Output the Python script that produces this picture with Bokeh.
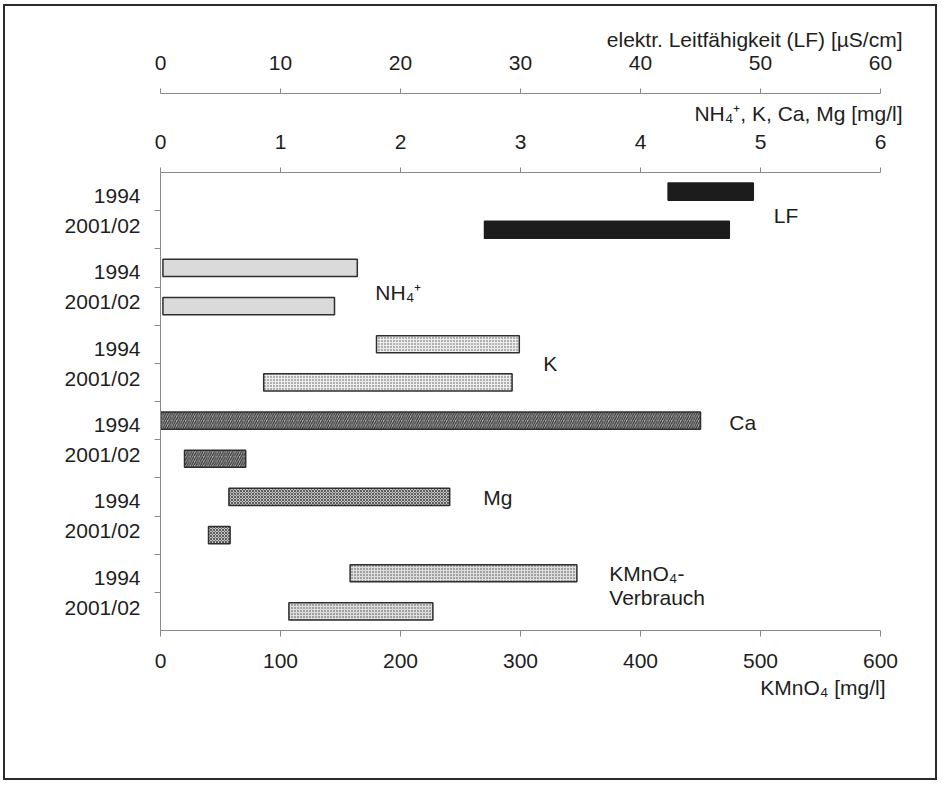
from bokeh.plotting import figure
from bokeh.models import Range1d, LinearAxis, FixedTicker, Title, Label
from bokeh.embed import file_html
from bokeh.resources import INLINE

# ---------------- data ----------------
years = ["1994", "2001/02"]
groups = ["LF", "NH₄⁺", "K", "Ca", "Mg", "KMnO₄-\nVerbrauch"]

lf_lo = [42.3, 27.0]      # µS/cm
lf_hi = [49.4, 47.4]
nh4_lo = [0.02, 0.02]     # mg/l
nh4_hi = [1.64, 1.45]
k_lo = [1.80, 0.86]
k_hi = [2.99, 2.93]
ca_lo = [0.0, 0.20]
ca_hi = [4.50, 0.71]
mg_lo = [0.57, 0.40]
mg_hi = [2.41, 0.58]
kmno4_lo = [158, 107]     # mg/l
kmno4_hi = [347, 227]

lf_ticks = [0, 10, 20, 30, 40, 50, 60]
mg_ticks = [0, 1, 2, 3, 4, 5, 6]
kmno4_ticks = [0, 100, 200, 300, 400, 500, 600]

lf_title = "elektr. Leitfähigkeit (LF) [µS/cm]"
mg_title = "NH₄⁺, K, Ca, Mg [mg/l]"
kmno4_title = "KMnO₄ [mg/l]"

# ---------------- style ----------------
FONT = "Liberation Sans"
FS = "21px"
TXT = "#1e1e1e"
AX = "#8a8a8a"
W, H = 934, 776

p = figure(width=W, height=H, output_backend="svg", toolbar_location=None,
           x_range=Range1d(0, 600), y_range=Range1d(12, 0),
           min_border_left=155, min_border_right=59,
           min_border_top=166, min_border_bottom=152)
p.styles = {"border": "2px solid #2b2b2b", "margin-left": "3px", "margin-top": "4px"}
p.extra_x_ranges = {"mg": Range1d(0, 6), "lf": Range1d(0, 60)}
p.xgrid.visible = False
p.ygrid.visible = False
p.outline_line_color = None
p.background_fill_color = "white"
p.border_fill_color = "white"

def style_axis(ax, ticks, standoff, tick_out):
    ax.ticker = FixedTicker(ticks=ticks)
    ax.axis_line_color = AX
    ax.major_tick_line_color = AX
    ax.major_tick_out = tick_out
    ax.major_tick_in = 0
    ax.minor_tick_line_color = None
    ax.major_label_text_font = FONT
    ax.major_label_text_font_size = FS
    ax.major_label_text_color = TXT
    ax.major_label_standoff = standoff

def title(text, offset, standoff):
    return Title(text=text, align="right", offset=offset, standoff=standoff,
                 text_font=FONT, text_font_size=FS, text_font_style="normal",
                 text_color=TXT)

# bottom axis (KMnO4)
xb = p.xaxis[0]
style_axis(xb, kmno4_ticks, 17, 6)

# top axes
ax_mg = LinearAxis(x_range_name="mg")
style_axis(ax_mg, mg_ticks, 19, 5)
p.add_layout(ax_mg, "above")
p.add_layout(title(mg_title, -22, 13), "above")
ax_lf = LinearAxis(x_range_name="lf")
style_axis(ax_lf, lf_ticks, 19, 5)
p.add_layout(ax_lf, "above")
p.add_layout(title(lf_title, -22, 4), "above")
p.add_layout(title(kmno4_title, -5, 6), "below")

# left axis: year labels, ticks between rows
label_pos = []
overrides = {}
for g in range(len(groups)):
    for j, yr in enumerate(years):
        pos = round(2 * g + j + 0.5 + (0.1 if j == 0 else -0.11), 3)
        label_pos.append(pos)
        overrides[pos] = yr
ya = p.yaxis[0]
ya.ticker = FixedTicker(ticks=label_pos, minor_ticks=list(range(1, 2 * len(groups))))
ya.major_label_overrides = overrides
ya.axis_line_color = AX
ya.major_tick_line_color = None
ya.major_tick_out = 0
ya.major_tick_in = 0
ya.minor_tick_line_color = AX
ya.minor_tick_out = 6
ya.minor_tick_in = 0
ya.major_label_text_font = FONT
ya.major_label_text_font_size = FS
ya.major_label_text_color = TXT
ya.major_label_standoff = 14

# bars
series = [
    (lf_lo, lf_hi, "lf", dict(fill_color="#1c1c1c", line_color="#1c1c1c")),
    (nh4_lo, nh4_hi, "mg", dict(fill_color="#dadada", line_color="#2e2e2e")),
    (k_lo, k_hi, "mg", dict(fill_color="#ededed", line_color="#2e2e2e",
                            hatch_pattern="dot", hatch_color="#555555",
                            hatch_scale=3, hatch_weight=1)),
    (ca_lo, ca_hi, "mg", dict(fill_color="#b4b4b4", line_color="#2e2e2e",
                              hatch_pattern="right_diagonal_line", hatch_color="#303030",
                              hatch_scale=4.5, hatch_weight=1.2)),
    (mg_lo, mg_hi, "mg", dict(fill_color="#c4c4c4", line_color="#2e2e2e",
                              hatch_pattern="diagonal_cross", hatch_color="#444444",
                              hatch_scale=3, hatch_weight=0.8)),
    (kmno4_lo, kmno4_hi, "default", dict(fill_color="#dedede", line_color="#2e2e2e",
                                         hatch_pattern="dot", hatch_color="#444444",
                                         hatch_scale=3, hatch_weight=1)),
]
for g, (lo, hi, rname, st) in enumerate(series):
    ys = [2 * g + j + 0.5 for j in range(len(years))]
    p.hbar(y=ys, left=lo, right=hi, height=0.45, x_range_name=rname,
           line_width=1.5, **st)

# group labels (positions in KMnO4 units / row units)
lab_x = [511, 179, 319, 474, 269, 374]
lab_y = [1.13, 3.14, 5.0, 6.55, 8.51, 10.5]
for name, lx, ly in zip(groups, lab_x, lab_y):
    for k, line in enumerate(name.split("\n")):
        p.add_layout(Label(x=lx, y=ly, y_offset=-24 * k, text=line,
                           text_baseline="middle", text_align="left",
                           text_font=FONT, text_font_size=FS, text_color=TXT))

open("out.html", "w").write(file_html(p, INLINE))
